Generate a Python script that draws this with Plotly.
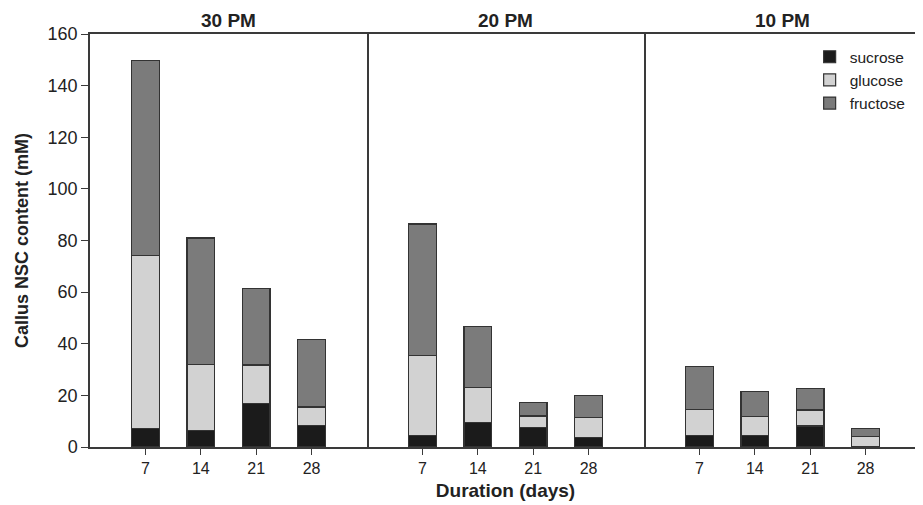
import plotly.graph_objects as go
from plotly.subplots import make_subplots

days = [7, 14, 21, 28]
panels = ["30 PM", "20 PM", "10 PM"]

sucrose_30 = [7.1, 6.3, 16.9, 8.4]
glucose_30 = [67.1, 25.7, 14.9, 7.1]
fructose_30 = [75.5, 49.0, 29.5, 26.2]

sucrose_20 = [4.4, 9.5, 7.5, 3.6]
glucose_20 = [31.0, 13.4, 4.5, 7.9]
fructose_20 = [51.0, 23.8, 5.3, 8.6]

sucrose_10 = [4.4, 4.4, 8.1, 0.0]
glucose_10 = [10.2, 7.5, 6.2, 4.1]
fructose_10 = [16.5, 9.6, 8.4, 3.0]

y_ticks = [0, 20, 40, 60, 80, 100, 120, 140, 160]

data = [
    (sucrose_30, glucose_30, fructose_30),
    (sucrose_20, glucose_20, fructose_20),
    (sucrose_10, glucose_10, fructose_10),
]
names = ["sucrose", "glucose", "fructose"]
colors = ["#1b1b1b", "#d2d2d2", "#7b7b7b"]

FONT = "Liberation Sans, Arial, sans-serif"
INK = "#222222"
LINE = "#3a3a3a"

fig = make_subplots(rows=1, cols=3, shared_yaxes=True, horizontal_spacing=0,
                    subplot_titles=panels)

for c, series in enumerate(data, start=1):
    for name, vals, col in zip(names, series, colors):
        fig.add_trace(go.Bar(
            x=days, y=vals, name=name, legendgroup=name, showlegend=(c == 1),
            width=3.5, marker=dict(color=col, line=dict(color="#333333", width=1.2)),
        ), row=1, col=c)

for c in range(1, 4):
    fig.update_xaxes(row=1, col=c, range=[0, 35], tickvals=days, ticks="outside",
                     ticklen=6, tickcolor=LINE, showline=True, linecolor=LINE,
                     linewidth=1.5, mirror=True, showgrid=False, zeroline=False,
                     tickfont=dict(family=FONT, size=16, color=INK))
    fig.update_yaxes(row=1, col=c, range=[0, 160], tickvals=y_ticks, showline=True,
                     linecolor=LINE, linewidth=1.5, showgrid=False, zeroline=False)

fig.update_yaxes(row=1, col=1, ticks="outside", ticklen=7, tickcolor=LINE, mirror=True,
                 tickfont=dict(family=FONT, size=18, color=INK),
                 title=dict(text="<b>Callus NSC content (mM)</b>",
                            font=dict(family=FONT, size=18, color=INK),
                            standoff=14))
fig.update_yaxes(row=1, col=2, ticks="", showticklabels=False, side="right", mirror=False)
fig.update_yaxes(row=1, col=3, ticks="", showticklabels=False, side="right", mirror=False)

fig.update_xaxes(row=1, col=2, title=dict(text="<b>Duration (days)</b>",
                 font=dict(family=FONT, size=19, color=INK),
                 standoff=8))

for ann in fig.layout.annotations:
    ann.text = "<b>" + ann.text + "</b>"
    ann.font = dict(family=FONT, size=19, color=INK)
    ann.yshift = 1

# page body has an 8px margin, so the plot area is shifted up/left to compensate
fig.update_layout(
    width=923, height=505,
    margin=dict(l=82, r=10, t=26, b=66, autoexpand=False),
    barmode="stack",
    plot_bgcolor="white", paper_bgcolor="white",
    legend=dict(x=0.866, xanchor="left", y=0.985, yanchor="top", traceorder="normal",
                font=dict(family=FONT, size=15.5, color=INK),
                bgcolor="rgba(0,0,0,0)", itemwidth=30, tracegroupgap=0),
    font=dict(family=FONT),
)

fig.write_html("out.html")
